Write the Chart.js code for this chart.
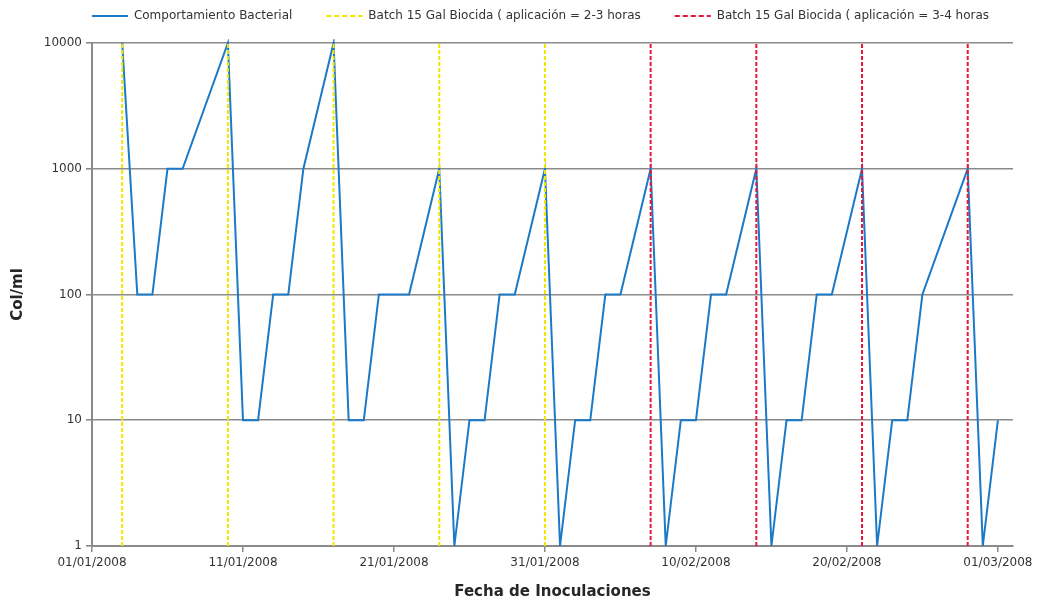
<!DOCTYPE html>
<html>
<head>
<meta charset="utf-8">
<script src="https://cdn.jsdelivr.net/npm/chart.js@4.4.1/dist/chart.umd.min.js"></script>
<style>
  html, body { margin: 0; padding: 0; background: #ffffff; }
  #wrap { width: 1046px; height: 602px; }
</style>
</head>
<body>
<div id="wrap"><canvas id="c" width="1046" height="602"></canvas></div>
<script>
// ---- data (days counted from 01/01/2008) ----
const sampleDays = [2, 3, 4, 5, 6, 9,
                    10, 11, 12, 13, 14, 16,
                    17, 18, 19, 20, 21, 23,
                    24, 25, 26, 27, 28, 30,
                    31, 32, 33, 34, 35, 37,
                    38, 39, 40, 41, 42, 44,
                    45, 46, 47, 48, 49, 51,
                    52, 53, 54, 55, 58,
                    59, 60];
const colPerMl = [10000, 100, 100, 1000, 1000, 10000,
                  10, 10, 100, 100, 1000, 10000,
                  10, 10, 100, 100, 100, 1000,
                  1, 10, 10, 100, 100, 1000,
                  1, 10, 10, 100, 100, 1000,
                  1, 10, 10, 100, 100, 1000,
                  1, 10, 10, 100, 100, 1000,
                  1, 10, 10, 100, 1000,
                  1, 10];
const batch23Days = [2, 9, 16, 23, 30];
const batch34Days = [37, 44, 51, 58];
const xTickDays = [0, 10, 20, 30, 40, 50, 60];
const xTickLabels = ['01/01/2008', '11/01/2008', '21/01/2008', '31/01/2008', '10/02/2008', '20/02/2008', '01/03/2008'];
const yTickValues = [1, 10, 100, 1000, 10000];
const seriesNames = ['Comportamiento Bacterial',
                     'Batch 15 Gal Biocida ( aplicación = 2-3 horas',
                     'Batch 15 Gal Biocida ( aplicación = 3-4 horas'];

// ---- build datasets from arrays ----
const yMin = yTickValues[0], yMax = yTickValues[yTickValues.length - 1];
const bacteria = sampleDays.map((d, i) => ({ x: d, y: colPerMl[i] }));
function verticals(days) {
  const pts = [];
  days.forEach(d => { pts.push({ x: d, y: yMin }, { x: d, y: yMax }, { x: d, y: null }); });
  return pts;
}

const FONT = "'DejaVu Sans', Verdana, sans-serif";
const GRID = '#8a8a8a';

const layoutTweak = {
  id: 'layoutTweak',
  beforeInit(chart) {
    const lg = chart.legend;
    const fit = lg.fit;
    lg.fit = function () { fit.call(this); this.height = 43; };
  },
  afterLayout(chart) {
    const lg = chart.legend;
    lg.top -= 24;
    lg.left += 34; lg.right += 34;
  }
};

new Chart(document.getElementById('c'), {
  type: 'line',
  data: {
    datasets: [
      {
        label: seriesNames[0], data: bacteria, order: 1,
        borderColor: '#1a7ac8', backgroundColor: '#1a7ac8',
        borderWidth: 2, pointRadius: 0, tension: 0, clip: 4
      },
      {
        label: seriesNames[1], data: verticals(batch23Days), order: 0,
        borderColor: '#f2e600', backgroundColor: '#f2e600',
        borderWidth: 2, borderDash: [4, 2], pointRadius: 0, spanGaps: false, clip: 4
      },
      {
        label: seriesNames[2], data: verticals(batch34Days), order: 0,
        borderColor: '#e8173a', backgroundColor: '#e8173a',
        borderWidth: 2, borderDash: [4, 2], pointRadius: 0, spanGaps: false, clip: 4
      }
    ]
  },
  options: {
    responsive: false,
    animation: false,
    layout: { padding: { left: 0, right: 33, top: 0, bottom: 0 } },
    plugins: {
      tooltip: { enabled: false },
      legend: {
        position: 'top',
        align: 'center',
        labels: {
          usePointStyle: true,
          pointStyle: 'line',
          pointStyleWidth: 36,
          boxWidth: 36,
          padding: 34,
          color: '#333333',
          font: { family: FONT, size: 12 },
          generateLabels: chart => Chart.defaults.plugins.legend.labels.generateLabels(chart).map(item => {
            const ds = chart.data.datasets[item.datasetIndex];
            item.lineDash = ds.borderDash ? [5, 3] : [];
            item.lineWidth = ds.borderWidth;
            item.strokeStyle = ds.borderColor;
            return item;
          }),
          sort: (a, b) => a.datasetIndex - b.datasetIndex
        }
      }
    },
    scales: {
      x: {
        type: 'linear',
        min: 0, max: 61,
        afterBuildTicks: s => { s.ticks = xTickDays.map(v => ({ value: v })); },
        afterFit: s => { s.height = 56; },
        ticks: {
          autoSkip: false, maxRotation: 0, padding: 4,
          color: '#333333', font: { family: FONT, size: 12 },
          callback: (v) => xTickLabels[xTickDays.indexOf(v)]
        },
        grid: { drawOnChartArea: false, drawTicks: true, tickLength: 6, color: GRID, lineWidth: 1.5 },
        border: { color: GRID, width: 2 },
        title: {
          display: true, text: 'Fecha de Inoculaciones',
          color: '#262626', font: { family: FONT, size: 15, weight: 'bold' },
          padding: { top: 0, bottom: 1 }
        }
      },
      y: {
        type: 'logarithmic',
        min: yMin, max: yMax,
        afterBuildTicks: s => { s.ticks = yTickValues.map(v => ({ value: v })); },
        afterFit: s => { s.width = 92; },
        ticks: {
          padding: 4, color: '#333333', font: { family: FONT, size: 12 },
          callback: (v) => String(v)
        },
        grid: { color: GRID, lineWidth: 1.6, tickLength: 6 },
        border: { color: GRID, width: 2 },
        title: {
          display: true, text: 'Col/ml',
          color: '#262626', font: { family: FONT, size: 15, weight: 'bold' },
          padding: { top: 9, bottom: 0 }
        }
      }
    }
  },
  plugins: [layoutTweak]
});
</script>
</body>
</html>
